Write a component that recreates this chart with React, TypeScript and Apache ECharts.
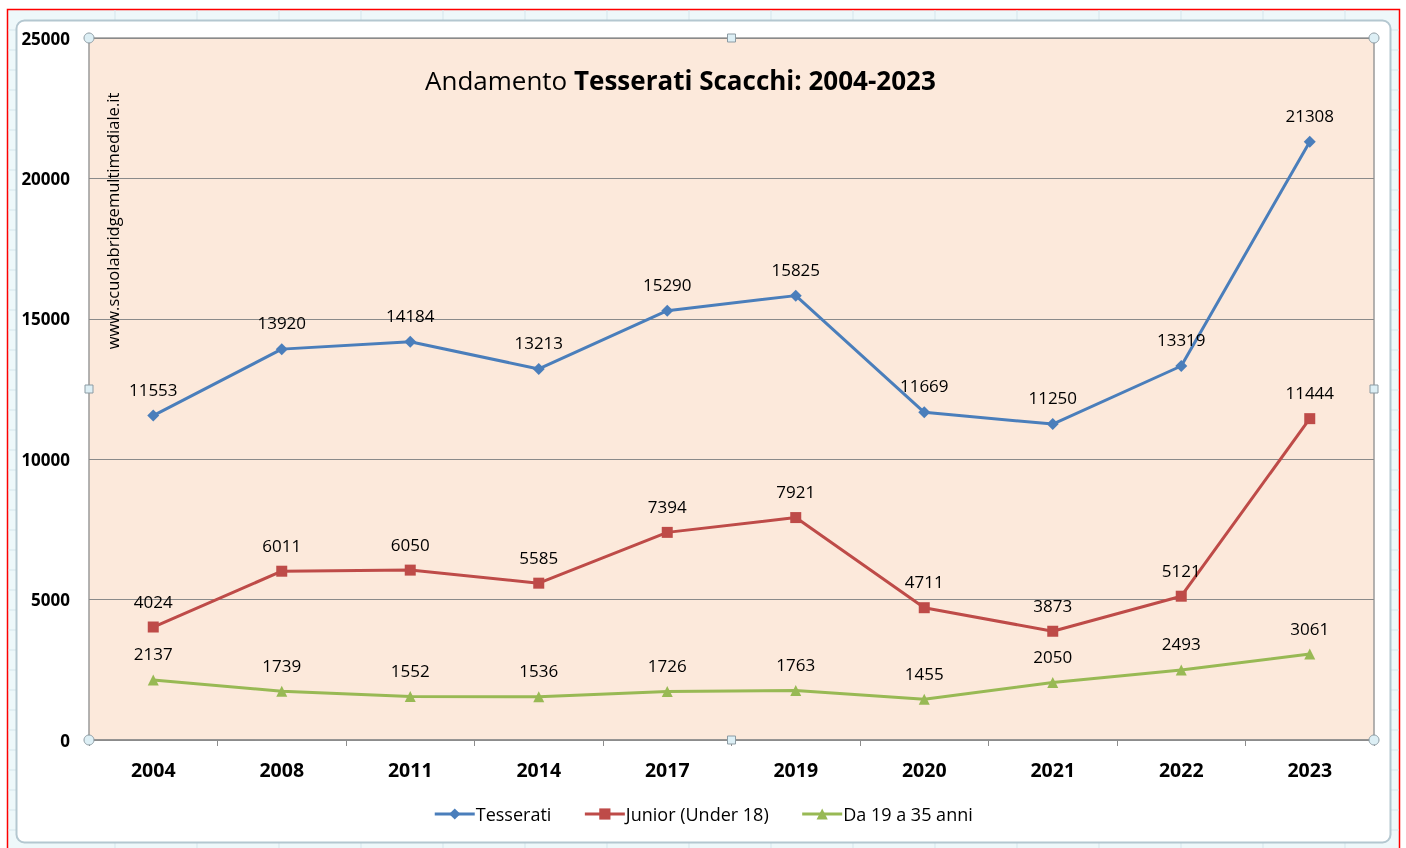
import React, { useEffect, useRef } from "react";
import * as echarts from "echarts";

const years = ["2004", "2008", "2011", "2014", "2017", "2019", "2020", "2021", "2022", "2023"];
const tesserati = [11553, 13920, 14184, 13213, 15290, 15825, 11669, 11250, 13319, 21308];
const junior = [4024, 6011, 6050, 5585, 7394, 7921, 4711, 3873, 5121, 11444];
const giovani = [2137, 1739, 1552, 1536, 1726, 1763, 1455, 2050, 2493, 3061];
const seriesNames = ["Tesserati", "Junior (Under 18)", "Da 19 a 35 anni"];

const FONT = "Open Sans";

export default function App() {
  const ref = useRef<HTMLDivElement>(null);
  useEffect(() => {
    document.body.style.margin = "0";
    const chart = echarts.init(ref.current!, null, { renderer: "svg" });
    const L = 89, R = 1374, T = 38, B = 740;
    const handleStyle = { fill: "#DDEFF5", stroke: "#8C9BA3", lineWidth: 1 };
    const graphics: any[] = [
      { type: "rect", z: -10, shape: { x: 0, y: 0, width: 1406, height: 848 }, style: { fill: "#fff" } },
      { type: "rect", z: -9, shape: { x: 7.5, y: 9.5, width: 1392, height: 850 }, style: { fill: "#EEF8FA", stroke: "#FF0000", lineWidth: 1.5 } },
    ];
    for (let x = 115; x < 1400; x += 82) {
      graphics.push({ type: "line", z: -8, shape: { x1: x, y1: 10, x2: x, y2: 848 }, style: { stroke: "#D5E6EC", lineWidth: 1 } });
    }
    for (let y = 30; y < 848; y += 20) {
      graphics.push({ type: "line", z: -8, shape: { x1: 8, y1: y, x2: 1399, y2: y }, style: { stroke: "#D5E6EC", lineWidth: 1 } });
    }
    graphics.push({ type: "rect", z: -7, shape: { x: 16.5, y: 20.5, width: 1374, height: 822, r: 8 }, style: { fill: "#fff", stroke: "#B4C7D0", lineWidth: 2 } });
    graphics.push({ type: "rect", z: -6, shape: { x: L, y: T, width: R - L, height: B - T }, style: { fill: "#FCE9DB", stroke: "#9A9A9A", lineWidth: 1.5 } });
    graphics.push({
      type: "text", z: 5, x: 112, y: 221, rotation: Math.PI / 2,
      style: { text: "www.scuolabridgemultimediale.it", font: `16.5px '${FONT}'`, fill: "#000", align: "center", verticalAlign: "middle" },
    });
    [[L, T], [R, T], [L, B], [R, B]].forEach(([x, y]) =>
      graphics.push({ type: "circle", z: 20, shape: { cx: x, cy: y, r: 5 }, style: handleStyle })
    );
    [[(L + R) / 2, T], [(L + R) / 2, B], [L, (T + B) / 2], [R, (T + B) / 2]].forEach(([x, y]) =>
      graphics.push({ type: "rect", z: 20, shape: { x: x - 4, y: y - 4, width: 8, height: 8 }, style: handleStyle })
    );

    const mk = (name: string, data: number[], color: string, symbol: string, size: number) => ({
      name, type: "line", data, symbol, symbolSize: size,
      lineStyle: { color, width: 3 }, itemStyle: { color },
      label: { show: true, position: "top", distance: 12, color: "#000", fontSize: 17, fontFamily: FONT },
      z: 3,
    });

    chart.setOption({
      animation: false,
      textStyle: { fontFamily: FONT },
      graphic: graphics,
      title: {
        left: 420, top: 62,
        text: "{n|Andamento }{b|Tesserati Scacchi: 2004-2023}",
        textStyle: {
          fontWeight: "normal",
          rich: {
            n: { fontSize: 26, fontFamily: FONT, fontWeight: "normal", color: "#000" },
            b: { fontSize: 26, fontFamily: FONT, fontWeight: "bold", color: "#000" },
          },
        },
      },
      legend: {
        bottom: 20, left: "center", itemWidth: 40, itemHeight: 14, itemGap: 32,
        data: seriesNames,
        lineStyle: { width: 3 },
        textStyle: { fontSize: 18, fontFamily: FONT, color: "#000", padding: [0, 0, 0, -4] },
      },
      grid: { left: L, right: 1406 - R, top: T, bottom: 848 - B, containLabel: false },
      xAxis: {
        type: "category", data: years, boundaryGap: true,
        axisLine: { lineStyle: { color: "#8C8C8C", width: 1.5 } },
        axisTick: { show: true, length: 6, lineStyle: { color: "#8C8C8C" } },
        axisLabel: { fontSize: 19.5, fontWeight: "bold", color: "#000", margin: 19, fontFamily: FONT },
      },
      yAxis: {
        type: "value", min: 0, max: 25000, interval: 5000,
        axisLine: { show: false }, axisTick: { show: false },
        axisLabel: { fontSize: 17, fontWeight: "bold", color: "#000", margin: 19, fontFamily: FONT, formatter: (v: number) => String(v) },
        splitLine: { lineStyle: { color: "#8A8A8A", width: 1 } },
      },
      series: [
        mk(seriesNames[0], tesserati, "#4A7EBB", "diamond", 12),
        mk(seriesNames[1], junior, "#BE4B48", "rect", 11),
        mk(seriesNames[2], giovani, "#98B954", "triangle", 11),
      ],
    });
    return () => chart.dispose();
  }, []);
  return <div ref={ref} style={{ position: "fixed", left: 0, top: 0, width: 1406, height: 848 }} />;
}
